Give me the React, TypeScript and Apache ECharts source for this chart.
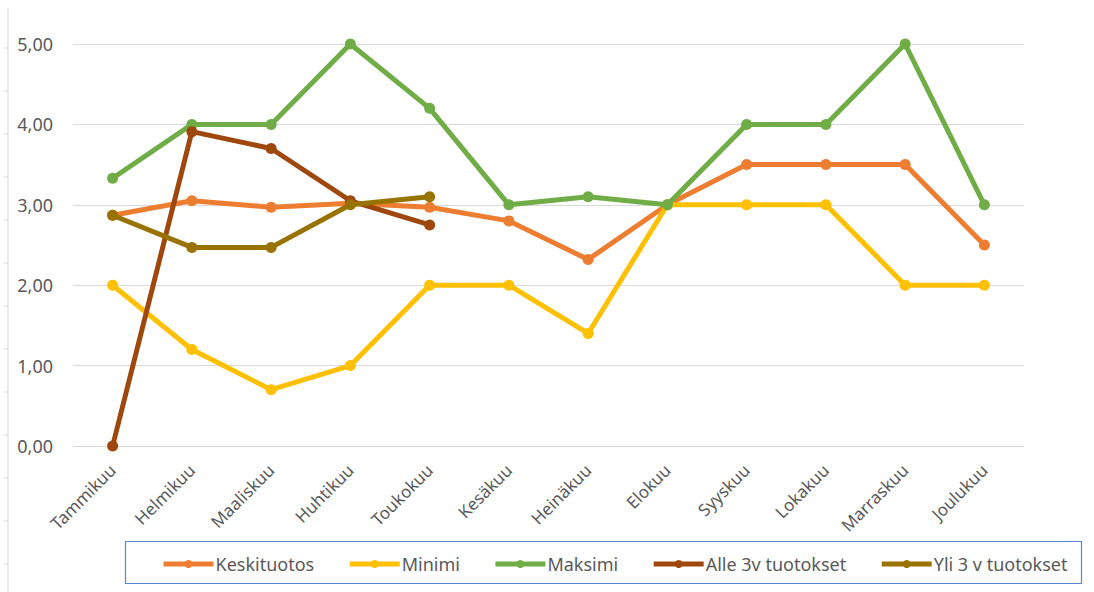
import React, { useEffect, useRef } from "react";
import * as echarts from "echarts";

const months = ["Tammikuu", "Helmikuu", "Maaliskuu", "Huhtikuu", "Toukokuu", "Kesäkuu", "Heinäkuu", "Elokuu", "Syyskuu", "Lokakuu", "Marraskuu", "Joulukuu"];
const keskituotos = [2.87, 3.05, 2.97, 3.02, 2.97, 2.8, 2.32, 3.0, 3.5, 3.5, 3.5, 2.5];
const minimi = [2.0, 1.2, 0.7, 1.0, 2.0, 2.0, 1.4, 3.0, 3.0, 3.0, 2.0, 2.0];
const maksimi = [3.33, 4.0, 4.0, 5.0, 4.2, 3.0, 3.1, 3.0, 4.0, 4.0, 5.0, 3.0];
const alle3v = [0.0, 3.91, 3.7, 3.05, 2.75, null, null, null, null, null, null, null];
const yli3v = [2.87, 2.47, 2.47, 3.0, 3.1, null, null, null, null, null, null, null];
const seriesNames = ["Keskituotos", "Minimi", "Maksimi", "Alle 3v tuotokset", "Yli 3 v tuotokset"];
const seriesColors = ["#ED7D31", "#FFC000", "#70AD47", "#9E480E", "#997300"];

const FONT = '"Noto Sans", "DejaVu Sans", sans-serif';

export default function App() {
  const ref = useRef<HTMLDivElement>(null);
  useEffect(() => {
    if (!ref.current) return;
    const chart = echarts.init(ref.current, null, { renderer: "svg" });
    const data = [keskituotos, minimi, maksimi, alle3v, yli3v];
    const ticks: any[] = [];
    for (let y = 48; y < 592; y += 43) {
      ticks.push({ type: "line", shape: { x1: 4, y1: y, x2: 8, y2: y }, style: { stroke: "#d9d9d9", lineWidth: 1 } });
    }
    chart.setOption({
      animation: false,
      backgroundColor: "#ffffff",
      textStyle: { fontFamily: FONT },
      grid: { left: 73, right: 70, top: 44, bottom: 146, containLabel: false },
      xAxis: {
        type: "category",
        data: months,
        boundaryGap: true,
        axisLine: { show: false },
        axisTick: { show: false },
        axisLabel: { rotate: 45, color: "#595959", fontSize: 17, fontFamily: FONT, margin: 21 },
      },
      yAxis: {
        type: "value",
        min: 0,
        max: 5,
        interval: 1,
        axisLine: { show: false },
        axisTick: { show: false },
        splitLine: { lineStyle: { color: "#d9d9d9", width: 1 } },
        axisLabel: {
          color: "#595959",
          fontSize: 18,
          fontFamily: FONT,
          margin: 20,
          formatter: (v: number) => v.toFixed(2).replace(".", ","),
        },
      },
      legend: {
        left: 156,
        top: 550,
        itemWidth: 50,
        itemHeight: 10,
        itemGap: 33,
        lineStyle: { width: 5 },
        textStyle: { color: "#595959", fontSize: 18, fontFamily: FONT, padding: [0, 0, 0, -3] },
        data: seriesNames,
      },
      graphic: [
        { type: "rect", shape: { x: 125.5, y: 541.5, width: 956, height: 42 }, style: { fill: "none", stroke: "#5b86d6", lineWidth: 1.2 }, z: -1 },
        { type: "line", shape: { x1: 8, y1: 8, x2: 8, y2: 592 }, style: { stroke: "#d9d9d9", lineWidth: 1 } },
        ...ticks,
      ],
      series: seriesNames.map((name, i) => ({
        name,
        type: "line",
        data: data[i],
        color: seriesColors[i],
        symbol: "circle",
        symbolSize: 11,
        lineStyle: { width: 5, color: seriesColors[i] },
        itemStyle: { color: seriesColors[i] },
        connectNulls: false,
        z: 2 + i,
      })),
    });
    return () => chart.dispose();
  }, []);
  return <div ref={ref} style={{ position: "fixed", left: 0, top: 0, width: 1094, height: 592 }} />;
}
